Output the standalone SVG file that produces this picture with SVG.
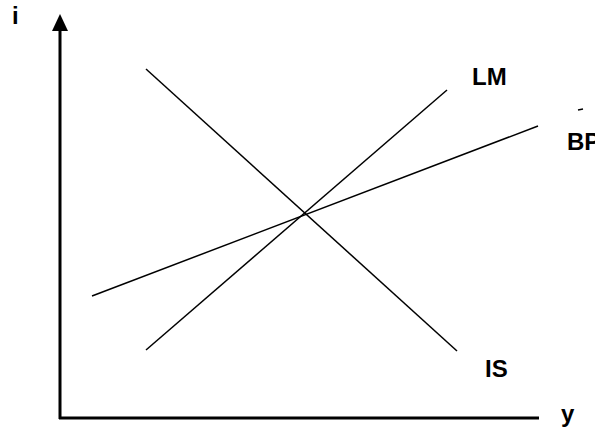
<svg xmlns="http://www.w3.org/2000/svg" width="595" height="433" viewBox="0 0 595 433">
<style>
.ax{stroke:#000;stroke-width:3;fill:none}
.ln{stroke:#000;stroke-width:1.5;fill:none}
.lb{font-family:"Liberation Sans",Arial,sans-serif;font-weight:bold;font-size:24px;fill:#000}
</style>
<rect width="595" height="433" fill="#fff"/>
<g id="axes">
<line class="ax" x1="60" y1="419" x2="60" y2="28"/>
<polygon points="60,14 52,31 68,31" fill="#000"/>
<line class="ax" x1="59" y1="418" x2="539" y2="418"/>
</g>
<g id="connectors">
<line id="IS-line" class="ln" x1="146" y1="69" x2="457" y2="351"/>
<line id="LM-line" class="ln" x1="146" y1="350" x2="447" y2="90"/>
<line id="BP-line" class="ln" x1="92" y1="296" x2="538" y2="126"/>
<line class="ln" x1="578" y1="110" x2="583" y2="109" stroke-width="1"/>
</g>
<g id="label-i"><text class="lb" x="12" y="24">i</text></g>
<g id="label-y"><text class="lb" x="561" y="422">y</text></g>
<g id="label-LM"><text class="lb" x="472" y="85">LM</text></g>
<g id="label-BP"><text class="lb" x="567" y="150">BP</text></g>
<g id="label-IS"><text class="lb" x="485" y="377">IS</text></g>
</svg>
